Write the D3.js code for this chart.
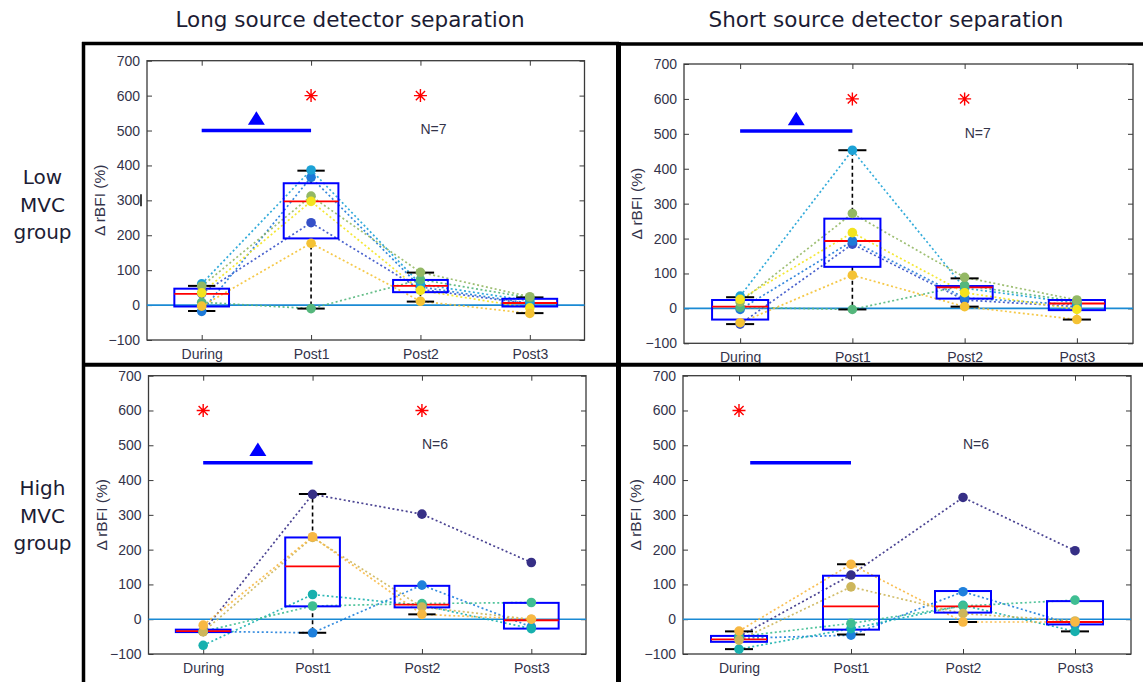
<!DOCTYPE html>
<html>
<head>
<meta charset="utf-8">
<script src="https://cdn.jsdelivr.net/npm/d3@7"></script>
<style>
  body { margin: 0; background: #fff; }
</style>
</head>
<body>
<div id="chart"></div>
<script>
// ---- data ----
var categories = ["During", "Post1", "Post2", "Post3"];
var yTicks = [-100, 0, 100, 200, 300, 400, 500, 600, 700];
var columnTitles = ["Long source detector separation", "Short source detector separation"];
var rowLabels = [["Low", "MVC", "group"], ["High", "MVC", "group"]];

// subject colours (parula-like)
var lowColors = ["#3550c8", "#1e7ad8", "#1ca2d6", "#55b77c", "#93b864", "#f3e41e", "#f4c234"];
var highColors = ["#362f86", "#1f80dc", "#17b0ae", "#3fbe92", "#cdb65a", "#f8b843"];

// one row per subject: During, Post1, Post2, Post3 (Δ rBFI %)
var longLowValues = [
  [33, 236, 45, 4],
  [-18, 366, 52, 5],
  [61, 387, 60, 12],
  [8, -10, 73, 21],
  [54, 312, 94, 24],
  [35, 297, 42, -8],
  [-3, 177, 11, -24]
];
var shortLowValues = [
  [-45, 184, 24, 5],
  [-3, 193, 30, 10],
  [35, 453, 58, 15],
  [3, -3, 66, 20],
  [18, 272, 89, 24],
  [26, 217, 45, -3],
  [-41, 95, 5, -32]
];
var longHighValues = [
  [-35, 359, 302, 163],
  [-35, -39, 98, -22],
  [-75, 71, 40, -27],
  [-35, 38, 45, 48],
  [-36, 235, 35, 0],
  [-17, 237, 14, 0]
];
var shortHighValues = [
  [-50, 127, 350, 197],
  [-55, -46, 79, -17],
  [-86, -27, 40, -35],
  [-50, -12, 38, 55],
  [-60, 93, 16, -5],
  [-34, 158, -8, -8]
];

// box plot statistics per category (null = no whisker drawn)
var longLowQ1 = [-4, 191, 37, -4],   longLowMed = [32, 297, 55, 6],   longLowQ3 = [47, 349, 72, 18];
var longLowLo = [-17, -10, 10, -23], longLowHi = [55, 385, 93, 22];
var shortLowQ1 = [-32, 119, 28, -5],  shortLowMed = [5, 193, 60, 14],  shortLowQ3 = [24, 257, 64, 24];
var shortLowLo = [-45, -3, 5, -32],   shortLowHi = [32, 453, 86, null];
var longHighQ1 = [-37, 37, 34, -27],  longHighMed = [-34, 152, 42, -3], longHighQ3 = [-30, 235, 96, 47];
var longHighLo = [null, -39, 14, null], longHighHi = [null, 360, null, null];
var shortHighQ1 = [-65, -30, 19, -15], shortHighMed = [-58, 37, 37, -8], shortHighQ3 = [-48, 125, 81, 52];
var shortHighLo = [-86, -44, -8, -35], shortHighHi = [-35, 158, null, null];

// significance marks
var longLowStars = [1, 2],  shortLowStars = [1, 2],  longHighStars = [0, 2],  shortHighStars = [0];
var longLowBar = [0, 1, 500],   shortLowBar = [0, 1, 508],   longHighBar = [0, 1, 450],   shortHighBar = [0.1, 1, 450];
var longLowTri = 535, shortLowTri = 543, longHighTri = 488, shortHighTri = null;
var nLabels = ["N=7", "N=7", "N=6", "N=6"];

// ---- layout ----
var W = 1143, H = 682;
var svg = d3.select("#chart").append("svg").attr("width", W).attr("height", H);

var panels = [
  { left: 147, right: 584.5, top: 60.7, bottom: 340, values: longLowValues, colors: lowColors,
    q1: longLowQ1, med: longLowMed, q3: longLowQ3, lo: longLowLo, hi: longLowHi,
    stars: longLowStars, bar: longLowBar, tri: longLowTri, n: nLabels[0] },
  { left: 684, right: 1133, top: 64, bottom: 343.3, values: shortLowValues, colors: lowColors,
    q1: shortLowQ1, med: shortLowMed, q3: shortLowQ3, lo: shortLowLo, hi: shortLowHi,
    stars: shortLowStars, bar: shortLowBar, tri: shortLowTri, n: nLabels[1] },
  { left: 148.5, right: 586, top: 375.7, bottom: 654, values: longHighValues, colors: highColors,
    q1: longHighQ1, med: longHighMed, q3: longHighQ3, lo: longHighLo, hi: longHighHi,
    stars: longHighStars, bar: longHighBar, tri: longHighTri, n: nLabels[2] },
  { left: 683, right: 1131, top: 375.7, bottom: 654, values: shortHighValues, colors: highColors,
    q1: shortHighQ1, med: shortHighMed, q3: shortHighQ3, lo: shortHighLo, hi: shortHighHi,
    stars: shortHighStars, bar: shortHighBar, tri: shortHighTri, n: nLabels[3] }
];

var tickFont = "'Liberation Sans', Arial, sans-serif";
var labelColor = "#33334a";

panels.forEach(function(p, pi) {
  var x = d3.scaleLinear().domain([-0.5, 3.5]).range([p.left, p.right]);
  var y = d3.scaleLinear().domain([-100, 700]).range([p.bottom, p.top]);
  var step = x(1) - x(0);
  var g = svg.append("g");

  // axes, ticks pointing inward on all four sides
  var axL = g.append("g").attr("transform", "translate(" + p.left + ",0)")
    .call(d3.axisLeft(y).tickValues(yTicks).tickSize(-5).tickPadding(7));
  var axR = g.append("g").attr("transform", "translate(" + p.right + ",0)")
    .call(d3.axisRight(y).tickValues(yTicks).tickSize(-5).tickFormat(""));
  var axB = g.append("g").attr("transform", "translate(0," + p.bottom + ")")
    .call(d3.axisBottom(x).tickValues([0, 1, 2, 3]).tickSize(-5).tickPadding(9)
      .tickFormat(function(d) { return categories[d]; }));
  var axT = g.append("g").attr("transform", "translate(0," + p.top + ")")
    .call(d3.axisTop(x).tickValues([0, 1, 2, 3]).tickSize(-5).tickFormat(""));
  [axL, axR, axB, axT].forEach(function(a) {
    a.attr("color", "#3a3a3a").attr("font-family", tickFont).attr("font-size", 14);
    a.select(".domain").remove();
    a.selectAll("text").attr("fill", labelColor);
  });

  g.append("rect")
    .attr("x", p.left).attr("y", p.top)
    .attr("width", p.right - p.left).attr("height", p.bottom - p.top)
    .attr("fill", "none").attr("stroke", "#3a3a3a").attr("stroke-width", 1.3);

  // y label
  g.append("text")
    .attr("transform", "translate(" + (p.left - 46) + "," + ((p.top + p.bottom) / 2) + ") rotate(-90)")
    .attr("text-anchor", "middle")
    .attr("dominant-baseline", "middle")
    .attr("font-family", tickFont).attr("font-size", 15.5)
    .attr("fill", labelColor)
    .text("\u0394 rBFI (%)");

  // zero line
  g.append("line")
    .attr("x1", p.left).attr("x2", p.right)
    .attr("y1", y(0)).attr("y2", y(0))
    .attr("stroke", "#1a8ad4").attr("stroke-width", 1.6);

  // subject trajectories
  var line = d3.line().x(function(v, j) { return x(j); }).y(function(v) { return y(v); });
  g.selectAll(".traj").data(p.values).enter().append("path")
    .attr("d", line)
    .attr("fill", "none")
    .attr("stroke", function(d, i) { return p.colors[i]; })
    .attr("stroke-width", 1.7)
    .attr("stroke-dasharray", "2,2.5")
    .attr("opacity", 0.9);

  // box plots
  var bw = step * 0.25, cw = step * 0.125;
  categories.forEach(function(c, j) {
    var cx = x(j);
    if (p.hi[j] != null) {
      g.append("line").attr("x1", cx).attr("x2", cx).attr("y1", y(p.q3[j])).attr("y2", y(p.hi[j]))
        .attr("stroke", "#000").attr("stroke-width", 1.6).attr("stroke-dasharray", "4,3");
      g.append("line").attr("x1", cx - cw).attr("x2", cx + cw).attr("y1", y(p.hi[j])).attr("y2", y(p.hi[j]))
        .attr("stroke", "#000").attr("stroke-width", 2);
    }
    if (p.lo[j] != null) {
      g.append("line").attr("x1", cx).attr("x2", cx).attr("y1", y(p.q1[j])).attr("y2", y(p.lo[j]))
        .attr("stroke", "#000").attr("stroke-width", 1.6).attr("stroke-dasharray", "4,3");
      g.append("line").attr("x1", cx - cw).attr("x2", cx + cw).attr("y1", y(p.lo[j])).attr("y2", y(p.lo[j]))
        .attr("stroke", "#000").attr("stroke-width", 2);
    }
    g.append("rect")
      .attr("x", cx - bw).attr("y", y(p.q3[j]))
      .attr("width", bw * 2).attr("height", y(p.q1[j]) - y(p.q3[j]))
      .attr("fill", "none").attr("stroke", "#0000ff").attr("stroke-width", 2);
    g.append("line").attr("x1", cx - bw).attr("x2", cx + bw).attr("y1", y(p.med[j])).attr("y2", y(p.med[j]))
      .attr("stroke", "#ff0000").attr("stroke-width", 1.8);
  });

  // subject points
  p.values.forEach(function(vals, i) {
    g.selectAll(null).data(vals).enter().append("circle")
      .attr("cx", function(v, j) { return x(j); })
      .attr("cy", function(v) { return y(v); })
      .attr("r", 4.8)
      .attr("fill", p.colors[i]);
  });

  // significance: red asterisks at 600
  p.stars.forEach(function(s) {
    g.append("path")
      .attr("transform", "translate(" + x(s) + "," + y(600) + ")")
      .attr("d", "M-6.5,0H6.5M0,-6.5V6.5M-4.6,-4.6L4.6,4.6M-4.6,4.6L4.6,-4.6")
      .attr("stroke", "#ff0000").attr("stroke-width", 1.4).attr("fill", "none");
  });

  // blue bar and triangle
  g.append("line")
    .attr("x1", x(p.bar[0])).attr("x2", x(p.bar[1]))
    .attr("y1", y(p.bar[2])).attr("y2", y(p.bar[2]))
    .attr("stroke", "#0000ff").attr("stroke-width", 3.5);
  if (p.tri != null) {
    g.append("path")
      .attr("transform", "translate(" + x(0.5) + "," + y(p.tri) + ")")
      .attr("d", "M0,-7L8.5,6.5H-8.5Z")
      .attr("fill", "#0000ff");
  }

  // N label
  g.append("text")
    .attr("x", x(2)).attr("y", y(500))
    .attr("dominant-baseline", "middle")
    .attr("font-family", tickFont).attr("font-size", 14)
    .attr("fill", labelColor)
    .text(p.n);

  // small stray mark next to the 300 label in the first panel
  if (pi === 0) {
    g.append("line").attr("x1", p.left - 6).attr("x2", p.left - 6)
      .attr("y1", y(300) - 6).attr("y2", y(300) + 6)
      .attr("stroke", "#000").attr("stroke-width", 1.5);
  }
});

// ---- panel frames ----
var frame = svg.append("g").attr("stroke", "#000");
frame.append("line").attr("x1", 82).attr("x2", 619).attr("y1", 43.5).attr("y2", 43.5).attr("stroke-width", 3.5);
frame.append("line").attr("x1", 617).attr("x2", W).attr("y1", 44).attr("y2", 44).attr("stroke-width", 3.5);
frame.append("line").attr("x1", 83.5).attr("x2", 83.5).attr("y1", 42).attr("y2", H).attr("stroke-width", 3.5);
frame.append("line").attr("x1", 618.5).attr("x2", 618.5).attr("y1", 42).attr("y2", H).attr("stroke-width", 5);
frame.append("line").attr("x1", 82).attr("x2", W).attr("y1", 364.8).attr("y2", 364.8).attr("stroke-width", 4);

// ---- titles ----
var titleFont = "'DejaVu Sans', Verdana, sans-serif";
[350, 886].forEach(function(cx, i) {
  svg.append("text")
    .attr("x", cx).attr("y", 27)
    .attr("text-anchor", "middle")
    .attr("font-family", titleFont).attr("font-size", 21.5)
    .attr("fill", "#1c1c34")
    .text(columnTitles[i]);
});
[184, 495].forEach(function(y0, r) {
  rowLabels[r].forEach(function(t, k) {
    svg.append("text")
      .attr("x", 42.5).attr("y", y0 + k * 27.5)
      .attr("text-anchor", "middle")
      .attr("font-family", titleFont).attr("font-size", 20)
      .attr("fill", "#1c1c34")
      .text(t);
  });
});
</script>
</body>
</html>
